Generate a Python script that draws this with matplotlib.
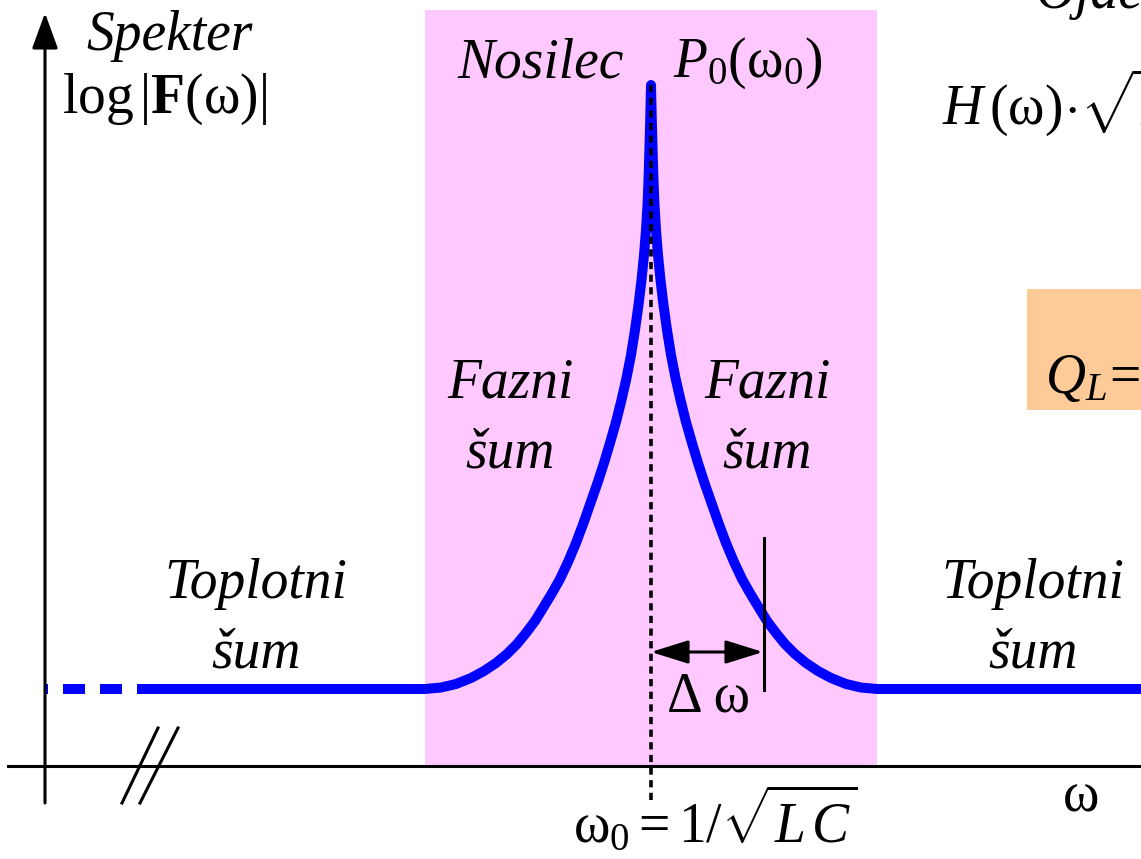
import numpy as np
import matplotlib.pyplot as plt
from matplotlib.patches import Rectangle

plt.rcParams['font.family'] = ['Liberation Serif', 'DejaVu Serif']
plt.rcParams['mathtext.fontset'] = 'custom'
plt.rcParams['mathtext.rm'] = 'Liberation Serif'
plt.rcParams['mathtext.it'] = 'Liberation Serif:italic'
plt.rcParams['mathtext.bf'] = 'Liberation Serif:bold'

# frequency axis and spectrum level, origin at the axis crossing
carrier_w = 606
peak_level = 681
floor_level = 77
band_lo, band_hi = 380, 832
dashed_w = [0, 114]
floor_left_w = [110, band_lo]
floor_right_w = [band_hi, 1100]

# one side of the phase-noise skirt: offset from carrier, level
skirt_dw = [0, 0.8, 1.6, 2.5, 3.5, 5, 7, 9.5, 12.5, 16, 20, 24.5, 29.5, 35, 41, 47, 53.5,
            60.5, 67.5, 75, 83, 91, 99.5, 108, 116, 125, 134, 144, 155, 167, 180, 195, 210, 226]
skirt_lvl = [681, 646, 616, 586, 561, 536, 511, 486, 461, 436, 411, 388, 366, 344, 323, 303,
             283, 263, 243, 223, 204, 187, 172, 158, 145, 133, 122, 112, 103, 95, 88, 82,
             78.5, 77]

dw_marker = 112

BLUE = '#0000FF'
PINK = '#FFC8FF'
PEACH = '#FDCA98'

fig = plt.figure(figsize=(11.41, 8.59), dpi=100)
ax = fig.add_axes([0, 0, 1, 1])
ax.set_xlim(-45, 1096)
ax.set_ylim(-93, 766)
ax.axis('off')

# phase noise band
ax.add_patch(Rectangle((band_lo, 0), band_hi - band_lo, 756, facecolor=PINK, edgecolor='none', zorder=0))
# amplifier formula box (cut by the edge)
ax.add_patch(Rectangle((982, 356), 130, 121, facecolor=PEACH, edgecolor='none', zorder=0))

# spectrum
dw = np.array(skirt_dw)
lv = np.array(skirt_lvl)
w = np.concatenate([floor_left_w, carrier_w - dw[::-1], carrier_w + dw[1:], floor_right_w])
lvl = np.concatenate([[floor_level] * 2, lv[::-1], lv[1:], [floor_level] * 2])
ax.plot(w, lvl, color=BLUE, lw=7.2, solid_capstyle='round', solid_joinstyle='round', zorder=3)
ax.plot(dashed_w[::-1], [floor_level] * 2, color=BLUE, lw=7.2, dash_capstyle='butt',
        linestyle=(0, (2.2, 1.5)), zorder=3)

# carrier marker
ax.plot([carrier_w, carrier_w], [peak_level, -36], color='black', lw=2.6,
        linestyle=(0, (2.0, 1.5)), zorder=4)

# axes with arrows
arrow = dict(arrowstyle='-|>,head_length=1.1,head_width=0.4', color='black', lw=2.2,
             mutation_scale=20, shrinkA=0, shrinkB=0)
ax.annotate('', xy=(0, 753), xytext=(0, -37), arrowprops=arrow, zorder=5)
ax.plot([-37, 1096], [0, 0], color='black', lw=2.2, zorder=5)
ax.plot([113, 77], [38, -37], color='black', lw=2.2, zorder=5)
ax.plot([133, 95], [38, -37], color='black', lw=2.2, zorder=5)

# bandwidth marker
dbl = dict(arrowstyle='<|-|>,head_length=1.15,head_width=0.36', color='black', lw=2.2,
           mutation_scale=20, shrinkA=0, shrinkB=0)
ax.annotate('', xy=(carrier_w + dw_marker, 114), xytext=(carrier_w, 114), arrowprops=dbl, zorder=5)
ax.plot([carrier_w + dw_marker + 1] * 2, [228, 76], color='black', lw=2.2, zorder=5)

fs = 40
it = dict(fontsize=fs, style='italic', va='baseline')
up = dict(fontsize=fs, va='baseline')

ax.text(125, 716, 'Spekter', ha='center', **it)
ax.text(17, 653, r'$\mathrm{log}\,|\mathbf{F}(\mathrm{ω})|$', ha='left', **up)
ax.text(412, 689, 'Nosilec', ha='left', **it)
ax.text(628, 689, r'$P_0(\mathrm{ω}_0)$', ha='left', **up)

for x in (465, 722):
    ax.text(x, 368, 'Fazni', ha='center', **it)
    ax.text(x, 298, 'šum', ha='center', **it)
for x in (211, 988):
    ax.text(x, 168, 'Toplotni', ha='center', **it)
    ax.text(x, 99, 'šum', ha='center', **it)

ax.text(622, 55, 'Δ ω', ha='left', **up)
ax.text(528, -76, r'$\mathrm{ω}_0=1/\sqrt{L\,C}$', ha='left', **up)
ax.text(1018, -46, 'ω', ha='left', **up)

ax.text(897, 641, r'$H\,(\mathrm{ω})\!\cdot\!\sqrt{P_0}$', ha='left', **up)
ax.text(1000, 373, r'$Q_L\!=$', ha='left', **up)
ax.text(990, 758, 'Ojačevalnik', ha='left', **it)

fig.savefig('out.png', dpi=100)
